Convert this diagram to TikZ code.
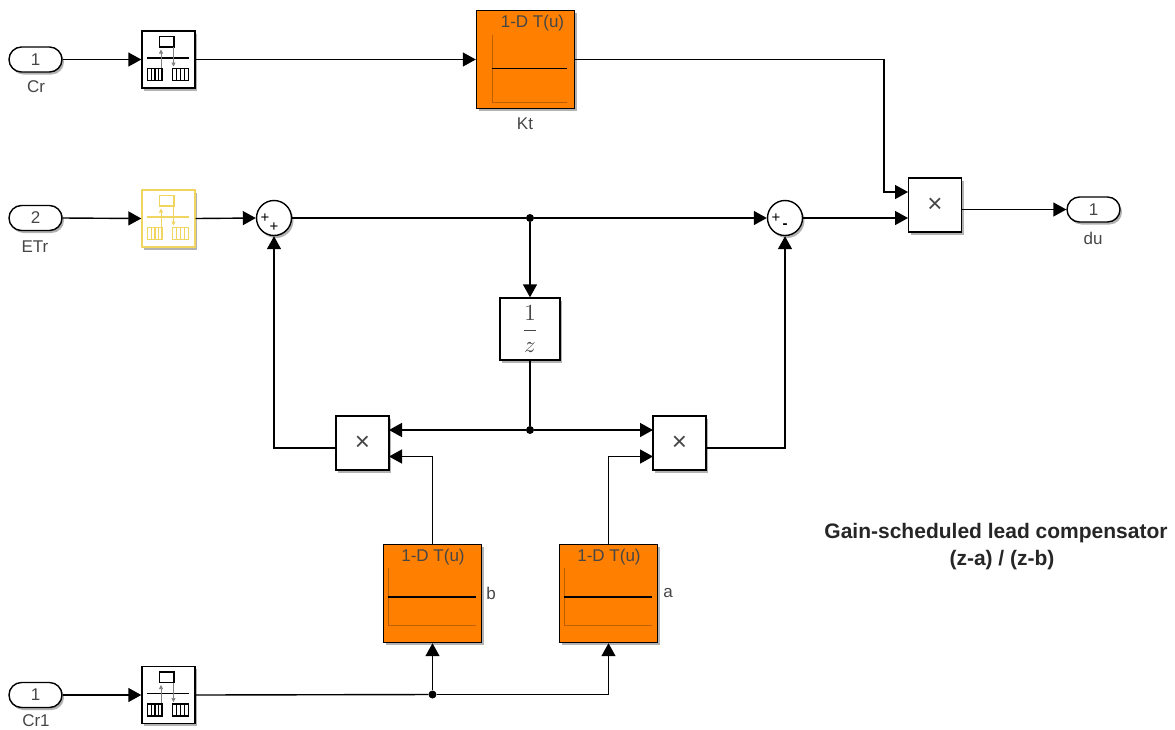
\documentclass[tikz,border=0pt]{standalone}
\usepackage{fontspec}
\setmainfont{Liberation Sans}
\usetikzlibrary{arrows.meta, shadows, calc}
\definecolor{tableorange}{RGB}{255,128,0}
\definecolor{axisorange}{RGB}{190,95,0}
\definecolor{selyellow}{RGB}{240,214,96}
\definecolor{labelgray}{RGB}{70,70,70}
\tikzset{
  shade/.style={drop shadow={shadow xshift=2pt,shadow yshift=-2.5pt,opacity=0.3,fill=black}},
  blockbox/.style={draw=black,line width=1.4pt,fill=white,inner sep=0pt,shade},
  mulbox/.style={blockbox,minimum width=53pt,minimum height=54pt,text=labelgray,font=\fontsize{26}{26}\selectfont},
  selbox/.style={blockbox,minimum width=53pt,minimum height=57pt},
  tablebox/.style={blockbox,fill=tableorange,minimum width=98pt,minimum height=98pt},
  portbox/.style={blockbox,rounded corners=12.5pt,minimum width=53pt,minimum height=25pt,text=labelgray,font=\fontsize{17}{19}\selectfont},
  sumbox/.style={blockbox,circle,minimum size=35pt},
  sumsign/.style={inner sep=0pt,font=\fontsize{15}{15}\selectfont},
  lab/.style={inner sep=0pt,text=labelgray,font=\fontsize{17}{19}\selectfont},
  note/.style={inner sep=0pt,text=black!85,font=\bfseries\fontsize{21}{27}\selectfont},
  sig/.style={line width=1.4pt,-{Triangle[length=13pt,width=14pt]}},
  wire/.style={line width=1.4pt},
  dot/.style={circle,fill=black,inner sep=0pt,minimum size=8pt}
}
% selector icon: node, colour, arrow colour
\newcommand{\selicon}[3]{
  \begin{scope}[shift={(#1.center)},draw=#2,line width=1.3pt]
    \draw (-9,-23) rectangle (5.5,-12.5);
    \draw (-22,-1.5)--(20,-1.5);
    \draw[#3,line width=0.7pt,-{Triangle[length=4pt,width=4pt]}] (-7.5,9)--(-7.5,-10);
    \draw[#3,line width=0.7pt,-{Triangle[length=4pt,width=4pt]}] (5,-12.5)--(5,7);
    \draw (-21,9) rectangle (-6.5,21);
    \draw (4,9) rectangle (20,21);
    \foreach \x in {-17,-13.5,-10,8,12,16}
      \draw (\x,9)--(\x,21);
  \end{scope}
}
% lookup table icon: node, left, top, bottom, right, curve height, title offset
\newcommand{\tableicon}[7]{
  \begin{scope}[shift={(#1.center)}]
    \draw[axisorange,line width=0.9pt] (#2,#3)--(#2,#4)--(#5,#4);
    \draw[black,line width=1.3pt] (#2,#6)--(#5,#6);
    \node[lab] (#1title) at (#7,-36.5) {1-D T(u)};
  \end{scope}
}
\begin{document}
\begin{tikzpicture}[x=1pt,y=-1pt]
  \useasboundingbox (0,0) rectangle (1175,729);
  % Ports
  \node[portbox] (cr) at (35.5,59.5) {1};
  \node[portbox] (etr) at (35.5,218) {2};
  \node[portbox] (crone) at (35.5,695) {1};
  \node[portbox] (du) at (1093.5,209.5) {1};
  \node[lab] (crlab) at (36,87) {Cr};
  \node[lab] (etrlab) at (35,247) {ETr};
  \node[lab] (cronelab) at (36,720.5) {Cr1};
  \node[lab] (dulab) at (1093,238) {du};
  % Selectors
  \node[selbox] (selcr) at (168.5,59.5) {};
  \node[selbox,draw=selyellow] (seletr) at (168.5,218.5) {};
  \node[selbox] (selcrone) at (168.5,695) {};
  \selicon{selcr}{black}{gray}
  \selicon{seletr}{selyellow}{selyellow}
  \selicon{selcrone}{black}{gray}
  % Tables
  \node[tablebox] (kt) at (525.5,59.5) {};
  \node[tablebox] (tabb) at (432.5,593.5) {};
  \node[tablebox] (taba) at (608.5,593.5) {};
  \tableicon{kt}{-33.5}{-25}{43}{41.5}{9}{7}
  \tableicon{tabb}{-44.5}{-25.5}{32}{43.5}{3.5}{0.5}
  \tableicon{taba}{-44.5}{-25.5}{32}{43.5}{3.5}{0.5}
  \node[lab] (ktlab) at (525,124) {Kt};
  \node[lab] (blab) at (491,593) {b};
  \node[lab] (alab) at (668,593) {a};
  % Sums
  \node[sumbox] (sumone) at (274,218) {};
  \node[sumbox] (sumtwo) at (785,218) {};
  \node[sumsign] (sumonea) at (265,218) {+};
  \node[sumsign] (sumoneb) at (274,227.5) {+};
  \node[sumsign] (sumtwoa) at (776,218) {+};
  \node[sumsign] (sumtwob) at (785,226.5) {\textbf{-}};
  % Products and delay
  \node[mulbox] (multop) at (935,205) {×};
  \node[mulbox] (mulleft) at (362.5,443) {×};
  \node[mulbox] (mulright) at (679.5,443) {×};
  \node[blockbox,minimum width=60pt,minimum height=62pt,text=labelgray] (delay) at (530,329) {\scalebox{2.3}{$\displaystyle\frac{1}{z}$}};
  % Ports on the product blocks
  \coordinate (topina) at (908,192);
  \coordinate (topinb) at (908,218);
  \coordinate (topout) at (961.5,209.5);
  \coordinate (topbend) at (884,192);
  \coordinate (leftina) at (389,430);
  \coordinate (leftinb) at (389,456.5);
  \coordinate (leftout) at (336,448);
  \coordinate (rightina) at (653,430);
  \coordinate (rightinb) at (653,456.5);
  \coordinate (rightout) at (706,448);
  % Junctions
  \node[dot] (jsum) at (530,218) {};
  \node[dot] (jdelay) at (530,430) {};
  \node[dot] (jcr) at (432.5,694.5) {};
  % Top row
  \draw[sig] (cr.east)--(selcr.west);
  \draw[sig] (selcr.east)--(kt.west);
  \draw[sig] (kt.east)-|(topbend)--(topina);
  \draw[sig] (topout)--(du.west);
  % Middle row
  \draw[sig] (etr.east)--(seletr.west);
  \draw[sig] (seletr.east)--(sumone.west);
  \draw[wire] (sumone.east)--(jsum);
  \draw[sig] (jsum)--(sumtwo.west);
  \draw[sig] (sumtwo.east)--(topinb);
  \draw[sig] (jsum)--(delay.north);
  % Feedback
  \draw[wire] (delay.south)--(jdelay);
  \draw[sig] (jdelay)--(leftina);
  \draw[sig] (jdelay)--(rightina);
  \draw[sig] (leftout)-|(sumone.south);
  \draw[sig] (rightout)-|(sumtwo.south);
  \draw[sig] (tabb.north)|-(leftinb);
  \draw[sig] (taba.north)|-(rightinb);
  % Bottom row
  \draw[sig] (crone.east)--(selcrone.west);
  \draw[wire] (selcrone.east)--(jcr);
  \draw[sig] (jcr)--(tabb.south);
  \draw[sig] (jcr)-|(taba.south);
  % Caption
  \node[note] (captionone) at (996,533) {Gain-scheduled lead compensator};
  \node[note] (captiontwo) at (1002,560) {(z-a) / (z-b)};
\end{tikzpicture}
\end{document}
